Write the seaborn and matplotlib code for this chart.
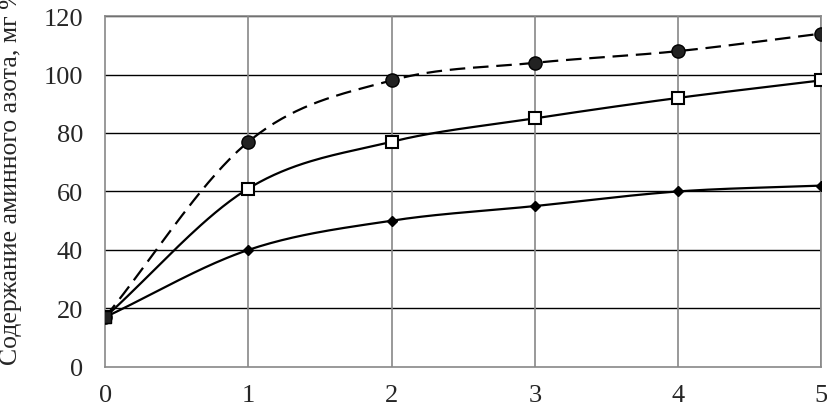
import numpy as np
import pandas as pd
import seaborn as sns
import matplotlib.pyplot as plt

# data
days = [0, 1, 2, 3, 4, 5]
circles = [17, 77, 98, 104, 108, 114]
squares = [17, 61, 77, 85, 92, 98]
diamonds = [17, 40, 50, 55, 60, 62]


def smooth(x, y, n=40):
    # catmull-rom style smoothing, like Excel's "smoothed line"
    x = np.asarray(x, float)
    y = np.asarray(y, float)
    px = np.concatenate([[2 * x[0] - x[1]], x, [2 * x[-1] - x[-2]]])
    py = np.concatenate([[2 * y[0] - y[1]], y, [2 * y[-1] - y[-2]]])
    xs, ys = [], []
    t = np.linspace(0, 1, n)
    for i in range(1, len(px) - 2):
        for p, out in ((px, xs), (py, ys)):
            p0, p1, p2, p3 = p[i - 1], p[i], p[i + 1], p[i + 2]
            out.extend(0.5 * ((2 * p1) + (-p0 + p2) * t
                              + (2 * p0 - 5 * p1 + 4 * p2 - p3) * t ** 2
                              + (-p0 + 3 * p1 - 3 * p2 + p3) * t ** 3))
    return np.array(xs), np.array(ys)


sns.set_style("white")
plt.rcParams['font.family'] = ['Liberation Serif', 'DejaVu Serif']

fig = plt.figure(figsize=(8.28, 4.06), dpi=100)
ax = fig.add_axes([0.127, 0.094, 0.865, 0.864])

for vals, ls in ((circles, (0, (7, 3.5))), (squares, '-'), (diamonds, '-')):
    sx, sy = smooth(days, vals)
    sns.lineplot(x=sx, y=sy, ax=ax, color='black', lw=1.6, linestyle=ls,
                 sort=False, estimator=None)

ax.plot(days, circles, 'o', ms=9.5, color='#222222', mec='black', zorder=5)
ax.plot(days, squares, 's', ms=8.5, mfc='white', mec='black', mew=1.5, zorder=5)
ax.plot(days, diamonds, 'D', ms=5.5, color='black', zorder=5)
ax.plot([0], [17], 's', ms=9, color='#222222', mec='black', zorder=6)

ax.set_xlim(0, 5)
ax.set_ylim(0, 120)
ax.set_xticks(days)
ax.set_xticks(np.arange(0.5, 5, 1), minor=True)
ax.set_yticks(range(0, 121, 20))
for y in range(20, 121, 20):
    ax.axhline(y, color='black', lw=1, zorder=1)
for x in days[1:]:
    ax.axvline(x, color='#888888', lw=1.2, zorder=1)

for s in ax.spines.values():
    s.set_color('#888888')
    s.set_linewidth(1.2)
ax.tick_params(axis='x', which='major', direction='out', length=6, color='#888888',
               labelsize=19, pad=6)
ax.tick_params(axis='x', which='minor', direction='out', length=4, color='#888888')
ax.tick_params(axis='y', direction='out', length=0, labelsize=19, pad=16)
ax.set_ylabel('Содержание аминного азота, мг %', fontsize=18.5)
ax.yaxis.set_label_coords(-0.116, 0.545)

fig.savefig('out.png', dpi=100)
